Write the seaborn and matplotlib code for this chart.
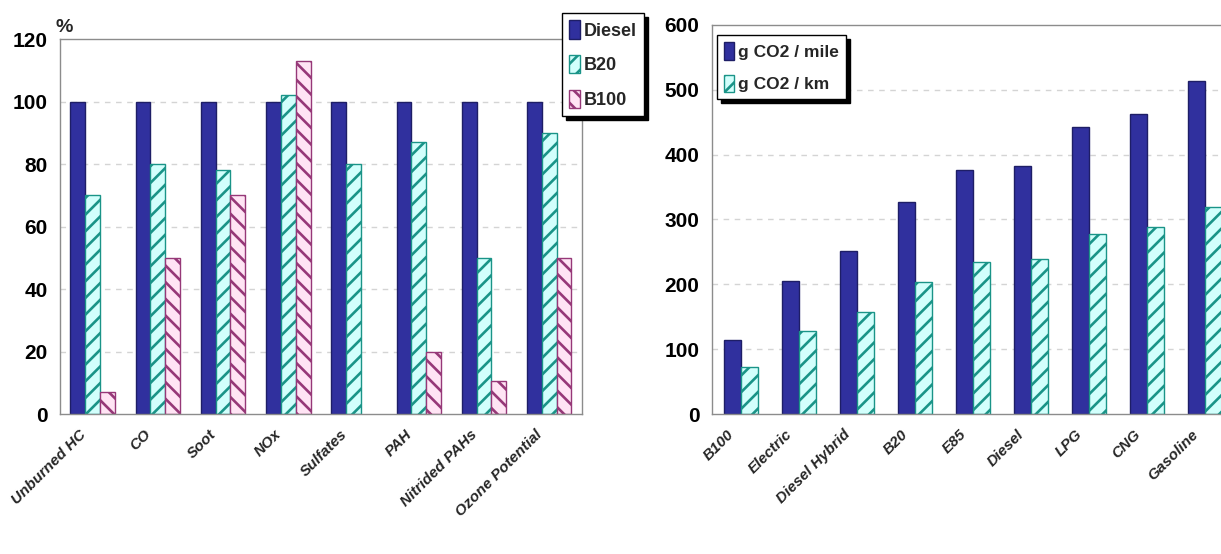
import numpy as np
import pandas as pd
import matplotlib
matplotlib.use("Agg")
import matplotlib.pyplot as plt
import matplotlib.transforms as mtransforms
import seaborn as sns

# ---- emissions relative to diesel (%) ----
emission_types = ["Unburned HC", "CO", "Soot", "NOx", "Sulfates", "PAH",
                  "Nitrided PAHs", "Ozone Potential"]
diesel_pct = [100, 100, 100, 100, 100, 100, 100, 100]
b20_pct = [70, 80, 78, 102, 80, 87, 50, 90]
b100_pct = [7, 50, 70, 113, np.nan, 20, 10.5, 50]
blend_names = ["Diesel", "B20", "B100"]

# ---- CO2 per distance by fuel ----
fuels = ["B100", "Electric", "Diesel Hybrid", "B20", "E85", "Diesel", "LPG",
         "CNG", "Gasoline"]
co2_per_mile = [114, 205, 252, 327, 376, 382, 443, 462, 513]
co2_per_km = [72, 128, 157, 204, 235, 239, 277, 288, 320]
co2_names = ["g CO2 / mile", "g CO2 / km"]

left_yticks = [0, 20, 40, 60, 80, 100, 120]
right_yticks = [0, 100, 200, 300, 400, 500, 600]

sns.set_theme(style="white")
plt.rcParams["hatch.linewidth"] = 1.9
ARIAL = ["Liberation Sans", "DejaVu Sans"]

NAVY = "#30309E"
NAVY_EDGE = "#1E1E66"
CYAN_FACE = "#D2FFFC"
TEAL = "#1A9488"
PINK_FACE = "#FFE4F4"
PLUM = "#963878"

df_em = pd.DataFrame({
    "type": emission_types * 3,
    "blend": np.repeat(blend_names, len(emission_types)),
    "value": diesel_pct + b20_pct + b100_pct,
})
df_co2 = pd.DataFrame({
    "fuel": fuels * 2,
    "unit": np.repeat(co2_names, len(fuels)),
    "value": co2_per_mile + co2_per_km,
})

fig = plt.figure(figsize=(12.21, 5.54), dpi=100)
ax1 = fig.add_axes([0.0491, 0.2527, 0.4275, 0.6769])
ax2 = fig.add_axes([0.5831, 0.2527, 0.4275, 0.7022])

styles = {
    "Diesel": dict(face=NAVY, edge=NAVY_EDGE, hatch=None),
    "B20": dict(face=CYAN_FACE, edge=TEAL, hatch="//"),
    "B100": dict(face=PINK_FACE, edge=PLUM, hatch="\\\\"),
    "g CO2 / mile": dict(face=NAVY, edge=NAVY_EDGE, hatch=None),
    "g CO2 / km": dict(face=CYAN_FACE, edge=TEAL, hatch="//"),
}

sns.barplot(data=df_em, x="type", y="value", hue="blend", hue_order=blend_names,
            width=0.68, ax=ax1, legend=True, saturation=1)
sns.barplot(data=df_co2, x="fuel", y="value", hue="unit", hue_order=co2_names,
            width=0.60, ax=ax2, legend=True, saturation=1)


def style_bars(ax, names):
    for name, cont in zip(names, ax.containers):
        st = styles[name]
        for p in cont:
            p.set_facecolor(st["face"])
            p.set_edgecolor(st["edge"])
            p.set_linewidth(1.0)
            if st["hatch"]:
                p.set_hatch(st["hatch"])


style_bars(ax1, blend_names)
style_bars(ax2, co2_names)


def style_axes(ax, yticks, labels):
    ax.set_ylim(yticks[0], yticks[-1])
    ax.set_yticks(yticks)
    ax.set_xlabel("")
    ax.set_ylabel("")
    ax.set_facecolor("white")
    for s in ["left", "bottom", "top", "right"]:
        ax.spines[s].set_visible(True)
        ax.spines[s].set_color("#8C8C8C")
        ax.spines[s].set_linewidth(1.0)
    for t in yticks[1:-1]:
        ax.axhline(t, color="#D4D4D4", lw=1.0, ls=(0, (4, 4)), zorder=0)
    ax.set_axisbelow(True)
    ax.tick_params(axis="y", which="major", direction="out", length=4,
                   width=1, color="#8C8C8C", pad=5)
    ax.set_yticklabels([str(v) for v in yticks], family=ARIAL,
                       fontweight="bold", fontsize=15, color="black")
    n = len(labels)
    ax.set_xticks(np.arange(n))
    ax.set_xticks(np.arange(n + 1) - 0.5, minor=True)
    ax.tick_params(axis="x", which="major", length=0, pad=13)
    ax.tick_params(axis="x", which="minor", direction="inout", length=7,
                   width=1, color="#8C8C8C")
    ax.set_xticklabels(labels, rotation=45, ha="right", va="center",
                       rotation_mode="anchor", family=ARIAL,
                       fontweight="bold", fontstyle="italic", fontsize=11)
    shift = mtransforms.ScaledTranslation(-9 / 100, 0, ax.figure.dpi_scale_trans)
    for lab in ax.get_xticklabels():
        lab.set_transform(lab.get_transform() + shift)


style_axes(ax1, left_yticks, emission_types)
style_axes(ax2, right_yticks, fuels)

ax1.text(-0.008, 1.008, "%", transform=ax1.transAxes, ha="left", va="bottom",
         family=ARIAL, fontweight="bold", fontsize=14)


def make_legend(ax, names, anchor, size, spacing):
    old = ax.get_legend()
    handles = old.legend_handles
    for h, name in zip(handles, names):
        st = styles[name]
        h.set_facecolor(st["face"])
        h.set_edgecolor(st["edge"])
        h.set_linewidth(1.0)
        if st["hatch"]:
            h.set_hatch(st["hatch"])
    old.remove()
    leg = fig.legend(handles, names, loc="upper left", bbox_to_anchor=anchor,
                     bbox_transform=fig.transFigure, frameon=True,
                     fancybox=False, shadow={"color": "black", "alpha": 1.0,
                                             "ox": 3, "oy": -3},
                     handlelength=0.6, handleheight=1.2, handletextpad=0.2,
                     borderpad=0.4, labelspacing=spacing, borderaxespad=0,
                     prop={"family": ARIAL, "weight": "bold", "size": size})
    leg.get_frame().set_edgecolor("black")
    leg.get_frame().set_linewidth(1.0)
    leg.get_frame().set_facecolor("white")
    return leg


make_legend(ax1, blend_names, (0.4603, 0.9765), 13, 0.85)
make_legend(ax2, co2_names, (0.5872, 0.9368), 12.5, 0.85)

fig.savefig("out.png", dpi=100, facecolor="white")
